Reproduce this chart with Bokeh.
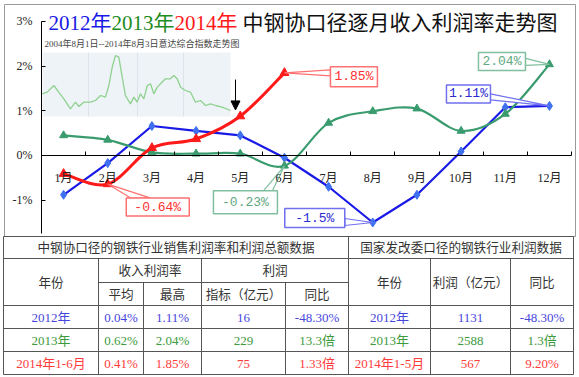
from bokeh.plotting import figure
from bokeh.models import Range1d, LinearAxis, FixedTicker, Arrow, NormalHead
from bokeh.core.properties import value
from bokeh.embed import file_html
from bokeh.resources import INLINE

# ---------------- data ----------------
month_pos = [1, 2, 3, 4, 5, 6, 7, 8, 9, 10, 11, 12]
month_labels = ["1月", "2月", "3月", "4月", "5月", "6月", "7月", "8月", "9月", "10月", "11月", "12月"]
rate_2012 = [-0.88, -0.17, 0.66, 0.55, 0.45, -0.05, -0.70, -1.50, -0.88, 0.09, 1.08, 1.11]
rate_2013 = [0.45, 0.35, 0.07, 0.04, 0.04, -0.23, 0.73, 0.99, 1.05, 0.55, 0.93, 2.04]
rate_2014 = [-0.41, -0.64, 0.17, 0.37, 0.88, 1.85]
y_ticks = [-1, 0, 1, 2, 3]
y_tick_labels = ["-1%", "0%", "1%", "2%", "3%"]

title_parts = ["2012年", "2013年", "2014年", "中钢协口径逐月收入利润率走势图"]
inset_title = "2004年8月1日--2014年8月3日意达综合指数走势图"
inset_year = [2004.60, 2004.87, 2005.22, 2005.48, 2005.75, 2006.10, 2006.37, 2006.55, 2006.81,
              2007.17, 2007.43, 2007.70, 2007.96, 2008.14, 2008.32, 2008.49, 2008.67, 2008.85,
              2009.02, 2009.29, 2009.47, 2009.64, 2009.82, 2010.00, 2010.18, 2010.35, 2010.53,
              2010.71, 2010.88, 2011.15, 2011.41, 2011.59, 2011.77, 2011.95, 2012.21, 2012.48,
              2012.74, 2013.01, 2013.27, 2013.54, 2013.80, 2014.16, 2014.60]
inset_index = [50, 55, 75, 55, 35, 5, 25, 12, 25, 25, 30, 45, 40, 75, 130, 165, 160, 100,
               45, 20, 40, 25, 50, 35, 75, 80, 50, 70, 80, 95, 95, 105, 95, 70, 60, 55,
               25, 30, 15, 20, 15, 10, 0]

tbl_title_left = "中钢协口径的钢铁行业销售利润率和利润总额数据"
tbl_title_right = "国家发改委口径的钢铁行业利润数据"
tbl_years_left = ["2012年", "2013年", "2014年1-6月"]
avg_rate = ["0.04%", "0.62%", "0.41%"]
max_rate = ["1.11%", "2.04%", "1.85%"]
profit = ["16", "229", "75"]
profit_yoy = ["-48.30%", "13.3倍", "1.33倍"]
tbl_years_right = ["2012年", "2013年", "2014年1-5月"]
ndrc_profit = ["1131", "2588", "567"]
ndrc_yoy = ["-48.30%", "1.3倍", "9.20%"]

# ---------------- style ----------------
BLUE, GREEN, RED = "#1a1ae6", "#3a9c6e", "#ff1a1a"
ROW_COLORS = ["#4646dc", "#3c9a3c", "#ff3b3b"]
TXT = "Liberation Serif, Noto Sans CJK SC"
MONO = "Liberation Mono"

W, H = 579, 377
X0, X1 = -0.428, 12.680
Y0, Y1 = -4.970, 3.470
KX = W / (X1 - X0)
KY = H / (Y1 - Y0)

p = figure(width=W, height=H, x_range=Range1d(X0, X1), y_range=Range1d(Y0, Y1),
           output_backend="svg", toolbar_location=None,
           x_axis_location=None, y_axis_location=None, min_border=0)
p.outline_line_color = None
p.grid.visible = False
p.background_fill_color = "white"
p.border_fill_color = "white"

IPX, IX_OFF = 18.833, 41.667
IX0 = 2004.6 - IX_OFF / IPX
p.extra_x_ranges = {"px": Range1d(0, W), "inset": Range1d(IX0, IX0 + W / IPX)}
p.extra_y_ranges = {"px": Range1d(H, 0), "inset": Range1d(3 * (110 - H), 330)}
PX = dict(x_range_name="px", y_range_name="px")
INS = dict(x_range_name="inset", y_range_name="inset")

# chart frame
p.quad(left=[4], right=[575], top=[4], bottom=[236], fill_color=None,
       line_color="#999999", line_width=1, **PX)

# inset (index picture)
p.quad(left=[42], right=[230], top=[52], bottom=[116], fill_color="#eaf0f5",
       fill_alpha=0.8, line_color=None, **PX)
p.segment(x0=[88, 137, 183], y0=[52, 52, 52], x1=[88, 137, 183], y1=[116, 116, 116],
          line_color="#dde3ea", line_width=1, **PX)
p.line(inset_year, inset_index, line_color="#8fd18f", line_width=1.3, **INS)
p.text(x=[44], y=[43], text=[inset_title], text_font=value(TXT), text_font_size=value("9px"),
       text_color="#444444", text_align="left", text_baseline="middle", **PX)

# title
p.text(x=[48, 111, 174, 242], y=[22] * 4, text=title_parts,
       text_color=[BLUE, "#1e8c1e", RED, "#111111"], text_font=value(TXT),
       text_font_size=value("21px"), text_align="left", text_baseline="middle", **PX)

# axes
xax = LinearAxis(fixed_location=0, bounds=(0.5, 12.5),
                 ticker=FixedTicker(ticks=month_pos, minor_ticks=[m - 0.5 for m in month_pos] + [12.5]),
                 major_label_overrides={m: l for m, l in zip(month_pos, month_labels)},
                 major_tick_line_color=None, minor_tick_in=4, minor_tick_out=0,
                 minor_tick_line_color="black", axis_line_color="black",
                 major_label_standoff=10, major_label_text_font=TXT,
                 major_label_text_font_size="12px", major_label_text_color="#222222")
p.add_layout(xax, "below")
yax = LinearAxis(fixed_location=0.5, bounds=(-1.74, 3),
                 ticker=FixedTicker(ticks=y_ticks, minor_ticks=[]),
                 major_label_overrides={t: l for t, l in zip(y_ticks, y_tick_labels)},
                 major_tick_in=4, major_tick_out=0, major_tick_line_color="black",
                 axis_line_color="black", major_label_standoff=9,
                 major_label_text_font=TXT, major_label_text_font_size="12px",
                 major_label_text_color="#222222")
p.add_layout(yax, "left")


def bez(xs, ys):
    P = list(zip(xs, ys))
    n = len(P)
    out = {k: [] for k in ["x0", "y0", "x1", "y1", "cx0", "cy0", "cx1", "cy1"]}
    for i in range(n - 1):
        pm = P[i - 1] if i > 0 else P[i]
        a, b = P[i], P[i + 1]
        pn = P[i + 2] if i + 2 < n else P[i + 1]
        out["x0"].append(a[0]); out["y0"].append(a[1])
        out["x1"].append(b[0]); out["y1"].append(b[1])
        out["cx0"].append(a[0] + (b[0] - pm[0]) / 6); out["cy0"].append(a[1] + (b[1] - pm[1]) / 6)
        out["cx1"].append(b[0] - (pn[0] - a[0]) / 6); out["cy1"].append(b[1] - (pn[1] - a[1]) / 6)
    return out


# series
p.line(month_pos, rate_2012, line_color=BLUE, line_width=2.2)
p.scatter(month_pos, rate_2012, marker="diamond", size=9, fill_color="#3f70f0", line_color="#3f70f0")
p.bezier(**bez(month_pos, rate_2013), line_color=GREEN, line_width=2.2)
p.scatter(month_pos, rate_2013, marker="triangle", size=8, fill_color=GREEN, line_color=GREEN)
p.bezier(**bez(month_pos[:len(rate_2014)], rate_2014), line_color=RED, line_width=3)
p.scatter(month_pos[:len(rate_2014)], rate_2014, marker="triangle", size=9, fill_color=RED, line_color=RED)

p.add_layout(Arrow(x_start=4.892, y_start=1.70, x_end=4.892, y_end=1.02,
                   end=NormalHead(size=9, fill_color="black", line_color="black"),
                   line_color="black", line_width=1))

# callouts: (series values, index, box dx, dy, w, h in px, wedge points, text color, border)
series = {"2012": rate_2012, "2013": rate_2013, "2014": rate_2014}
callouts = [
    ("2014", 5, (69.5, 4, 47, 20), ((46, -3), (46, 3)), "#ff3030", "#ff7070"),
    ("2013", 11, (-47.5, -3, 47, 18), ((-24, -6), (-24, 1)), "#5fa883", "#80bf9f"),
    ("2012", 11, (-81, -12, 44, 18), ((-59, -12), (-59, -6)), "#2a2ad0", "#7070f0"),
    ("2014", 1, (50, 23, 63, 18), ((23, 14), (43, 14)), "#ff3030", "#ff7070"),
    ("2013", 5, (-39, 36.5, 64, 23), ((-21, 25), (-12, 25)), "#5fa883", "#80bf9f"),
    ("2012", 7, (-58, -4.5, 60, 19), ((-28, -4), (-28, 3)), "#2a2ad0", "#7070f0"),
]
for key, idx, (dx, dy, bw, bh), (wa, wb), tcol, bcol in callouts:
    vx, vy = month_pos[idx], series[key][idx]
    p.patch([vx, vx + wa[0] / KX, vx + wb[0] / KX], [vy, vy - wa[1] / KY, vy - wb[1] / KY],
            fill_color="white", line_color=bcol, line_width=1.2)
    cx, cy = vx + dx / KX, vy - dy / KY
    p.rect(x=[cx], y=[cy], width=bw, height=bh, width_units="screen", height_units="screen",
           fill_color="white", line_color=bcol, line_width=1.5)
    p.text(x=[cx], y=[cy], text=[f"{vy:g}%"], text_color=tcol, text_font=value(MONO),
           text_font_size=value("13px"), text_align="center", text_baseline="middle")

# ---------------- table ----------------
LC = "#555555"
hl = [(3, 573, 236), (3, 573, 258), (98, 348, 282), (3, 573, 305), (3, 573, 328), (3, 573, 351), (3, 573, 374)]
vl = [(3, 236, 374), (98, 258, 374), (143, 282, 374), (201, 258, 374), (285, 282, 374),
      (348, 236, 374), (430, 258, 374), (510, 258, 374), (573, 236, 374)]
p.segment(x0=[a for a, b, c in hl], x1=[b for a, b, c in hl], y0=[c for a, b, c in hl],
          y1=[c for a, b, c in hl], line_color=LC, line_width=1, **PX)
p.segment(x0=[a for a, b, c in vl], x1=[a for a, b, c in vl], y0=[b for a, b, c in vl],
          y1=[c for a, b, c in vl], line_color=LC, line_width=1, **PX)

hdr = [((3, 348, 236, 258), tbl_title_left), ((348, 573, 236, 258), tbl_title_right),
       ((3, 98, 258, 305), "年份"), ((98, 201, 258, 282), "收入利润率"), ((201, 348, 258, 282), "利润"),
       ((98, 143, 282, 305), "平均"), ((143, 201, 282, 305), "最高"),
       ((201, 285, 282, 305), "指标（亿元）"), ((285, 348, 282, 305), "同比"),
       ((348, 430, 258, 305), "年份"), ((430, 510, 258, 305), "利润（亿元）"), ((510, 573, 258, 305), "同比")]
p.text(x=[(c[0] + c[1]) / 2 for c, t in hdr], y=[(c[2] + c[3]) / 2 + 0.5 for c, t in hdr],
       text=[t for c, t in hdr], text_color="#333333", text_font=value(TXT),
       text_font_size=value("12.6px"), text_align="center", text_baseline="middle", **PX)

cols = [(3, 98), (98, 143), (143, 201), (201, 285), (285, 348), (348, 430), (430, 510), (510, 573)]
rows = [(305, 328), (328, 351), (351, 374)]
tx, ty, tt, tc = [], [], [], []
for r, (r0, r1) in enumerate(rows):
    vals = [tbl_years_left[r], avg_rate[r], max_rate[r], profit[r], profit_yoy[r],
            tbl_years_right[r], ndrc_profit[r], ndrc_yoy[r]]
    for (c0, c1), v in zip(cols, vals):
        tx.append((c0 + c1) / 2); ty.append((r0 + r1) / 2 + 0.5); tt.append(v); tc.append(ROW_COLORS[r])
p.text(x=tx, y=ty, text=tt, text_color=tc, text_font=value(TXT), text_font_size=value("13px"),
       text_align="center", text_baseline="middle", **PX)

open("out.html", "w").write(file_html(p, INLINE))
